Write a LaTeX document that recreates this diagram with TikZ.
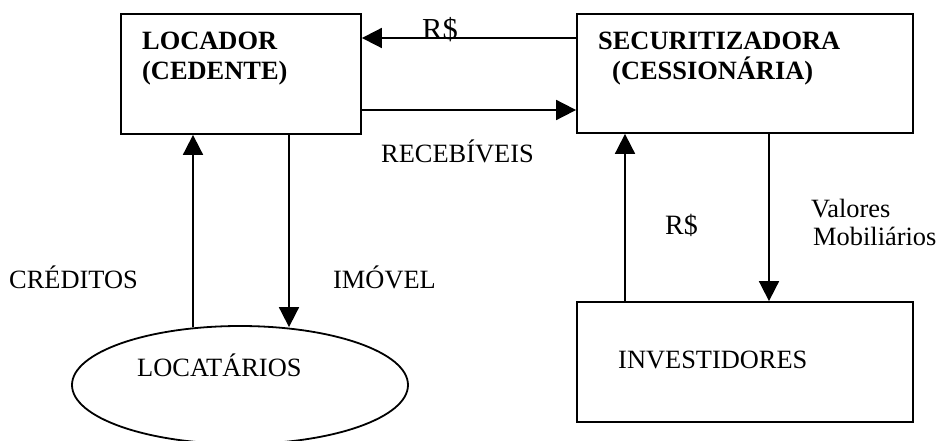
\documentclass[tikz,border=0pt]{standalone}
\usepackage{fontspec}
\setmainfont{Liberation Serif}
\usetikzlibrary{arrows.meta,shapes.geometric}
\begin{document}
\begin{tikzpicture}[x=1pt,y=-1pt,
  box/.style={draw,line width=1.8pt,rectangle,inner sep=0pt},
  arr/.style={line width=1.8pt,-{Triangle[length=20pt,width=20pt]}},
  lbl/.style={anchor=base west,inner sep=0pt,font=\fontsize{26.4}{30}\selectfont},
  blbl/.style={anchor=base west,inner sep=0pt,font=\fontsize{26.4}{30}\selectfont\bfseries}]
\useasboundingbox (0,0) rectangle (939,441);
% shapes
\node[box,minimum width=240pt,minimum height=120pt] (A) at (241,74) {};
\node[box,minimum width=336pt,minimum height=119pt] (B) at (745,73.5) {};
\node[box,minimum width=336pt,minimum height=120pt] (C) at (745,362) {};
\node[draw,line width=1.8pt,ellipse,inner sep=0pt,minimum width=336pt,minimum height=118pt] (D) at (240,385) {};
% helper coordinates
\coordinate (yTop) at (0,38);
\coordinate (yRec) at (0,110);
\coordinate (xCred) at (193,0);
\coordinate (xImov) at (289,0);
\coordinate (xRS) at (625,0);
\coordinate (xVal) at (769,0);
% connectors
\draw[arr] (B.west |- yTop) -- (A.east |- yTop);
\draw[arr] (A.east |- yRec) -- (B.west |- yRec);
\draw[arr] ([yshift=-2pt]D.north -| xCred) -- (A.south -| xCred);
\draw[arr] (A.south -| xImov) -- ([yshift=-2pt]D.north -| xImov);
\draw[arr] (C.north -| xRS) -- (B.south -| xRS);
\draw[arr] (B.south -| xVal) -- (C.north -| xVal);
% texts
\node[blbl] (tA1) at (142,50) {LOCADOR};
\node[blbl] (tA2) at (142,80) {(CEDENTE)};
\node[blbl] (tB1) at (598,50) {SECURITIZADORA};
\node[blbl] (tB2) at (612,80) {(CESSIONÁRIA)};
\node[lbl] (tC) at (618,368) {INVESTIDORES};
\node[lbl] (tD) at (137,376) {LOCATÁRIOS};
\node[lbl,font=\fontsize{30.5}{34}\selectfont] (lR1) at (422,40) {R\$};
\node[lbl] (lRec) at (381,162) {RECEBÍVEIS};
\node[lbl] (lCred) at (9,288) {CRÉDITOS};
\node[lbl] (lImov) at (333,288) {IMÓVEL};
\node[lbl,font=\fontsize{28}{32}\selectfont] (lR2) at (665,234) {R\$};
\node[lbl] (lVal1) at (811,217) {Valores};
\node[lbl] (lVal2) at (813,245) {Mobiliários};
\end{tikzpicture}
\end{document}
